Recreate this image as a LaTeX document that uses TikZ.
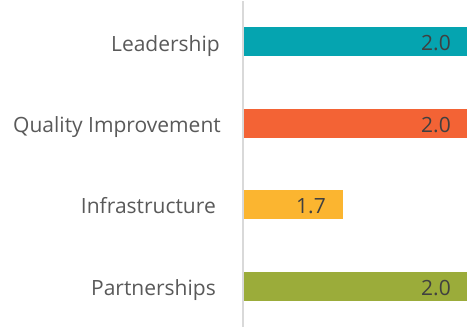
\documentclass[tikz,border=0pt]{standalone}
\usepackage{fontspec}
\setmainfont{Open Sans}
\definecolor{leadteal}{RGB}{5,164,176}
\definecolor{qualorange}{RGB}{243,99,53}
\definecolor{infrayellow}{RGB}{251,181,48}
\definecolor{partgreen}{RGB}{155,172,58}
\definecolor{catgray}{RGB}{89,89,89}
\definecolor{valgray}{RGB}{64,64,64}
\definecolor{axisgray}{RGB}{217,217,217}
\begin{document}
\begin{tikzpicture}[x=1pt, y=-1pt,
    catlabel/.style={anchor=base east, inner sep=0pt, text=catgray, font=\fontsize{21}{25}\selectfont},
    vallabel/.style={anchor=base east, inner sep=0pt, text=valgray, font=\fontsize{21}{25}\selectfont}]
    \useasboundingbox (0, 0) rectangle (471, 332);
    % bars
    \fill [leadteal] (244, 27) rectangle (467, 56);
    \fill [qualorange] (244, 109) rectangle (467, 138);
    \fill [infrayellow] (244, 190) rectangle (343, 219);
    \fill [partgreen] (244, 272) rectangle (467, 301);
    % axis
    \draw [axisgray, line width=1.5pt] (243, 1) coordinate (axtop) -- (243, 327) coordinate (axbot);
    % categories
    \node [catlabel] (lead) at (220, 51) {Leadership};
    \node [catlabel] (qual) at (221, 132) {Quality Improvement};
    \node [catlabel] (infra) at (216, 213) {Infrastructure};
    \node [catlabel] (part) at (216, 295) {Partnerships};
    % values
    \node [vallabel] (leadval) at (451, 50) {2.0};
    \node [vallabel] (qualval) at (451, 132) {2.0};
    \node [vallabel] (infraval) at (326, 213) {1.7};
    \node [vallabel] (partval) at (451, 295) {2.0};
\end{tikzpicture}
\end{document}
